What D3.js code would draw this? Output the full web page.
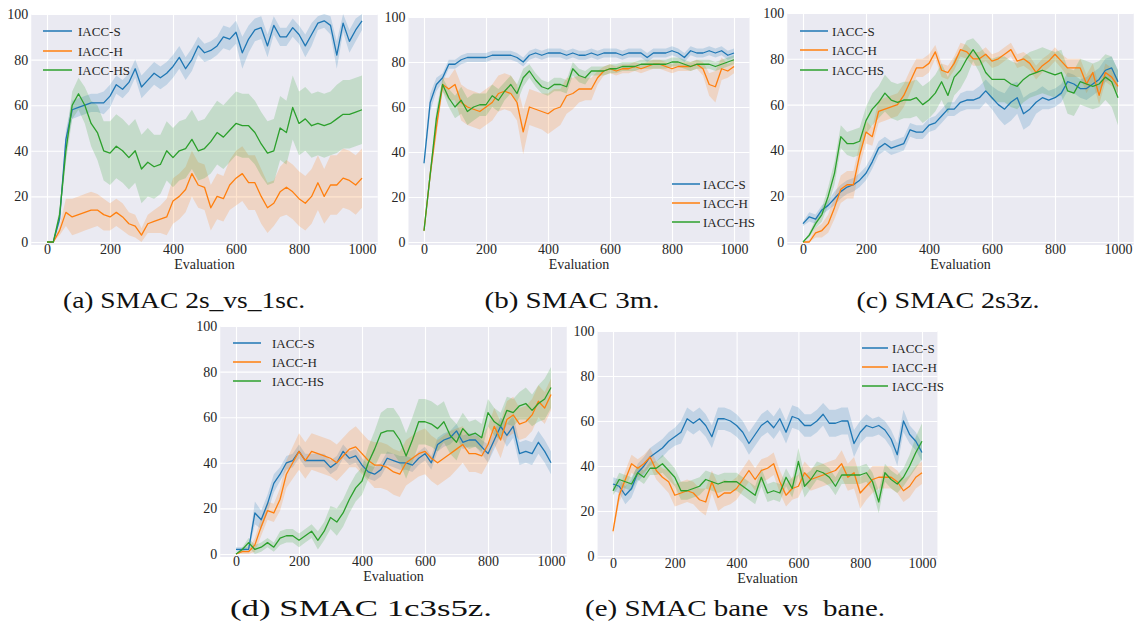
<!DOCTYPE html>
<html>
<head>
<meta charset="utf-8">
<script src="https://cdn.jsdelivr.net/npm/d3@7"></script>
<style>
  body { margin: 0; background: #fff; }
  svg { display: block; }
</style>
</head>
<body>
<svg id="chart" width="1135" height="625"></svg>
<script>
const evalSteps = d3.range(0, 1001, 20);
const xTicks = [0, 200, 400, 600, 800, 1000];
const yTicks = [0, 20, 40, 60, 80, 100];
const seriesNames = ['IACC-S', 'IACC-H', 'IACC-HS'];

// (a) SMAC 2s_vs_1sc  -- mean win rate and half-width of the shaded band
const aS    = [0,0,10,45,58, 59,60,61,61,61, 64,69,67,70,76, 68,71,74,72,74, 77,81,76,80,86, 83,84,86,90,89, 92,83,89,93,94, 86,95,90,90,94, 91,86,91,96,97, 95,82,96,88,93, 97];
const aSErr = [0,0,2,4,4, 4,4,4,4,5, 5,4,4,4,4, 5,5,5,5,5, 5,5,5,5,4, 4,4,4,5,5, 5,7,6,5,5, 5,4,4,4,4, 4,5,5,3,3, 4,6,4,5,5, 4];
const aH    = [0,0,5,13,11, 12,13,14,14,12, 11,13,11,8,7, 3,8,9,10,11, 18,20,23,30,25, 24,15,20,19,25, 28,30,26,26,20, 15,17,22,24,22, 19,17,20,26,20, 25,25,28,27,25, 28];
const aHErr = [0,0,2,6,8, 8,8,8,7,7, 6,6,6,5,5, 3,4,5,6,8, 10,10,10,10,10, 10,10,10,10,11, 12,12,12,12,12, 11,10,11,12,12, 12,12,12,12,12, 13,13,13,13,13, 13];
const aHS   = [0,0,12,40,60, 65,60,52,48,40, 39,42,40,37,40, 32,35,33,34,40, 37,40,41,45,40, 41,44,48,46,49, 52,51,51,48,43, 39,40,50,48,59, 52,54,51,52,51, 52,54,56,56,57, 58];
const aHSErr= [0,0,3,5,6, 7,8,10,12,13, 14,14,14,14,14, 15,15,14,13,13, 13,13,13,13,13, 13,14,14,14,14, 14,14,14,14,14, 14,14,14,14,14, 14,14,14,14,14, 14,15,15,15,15, 15];

// (b) SMAC 3m
const bS    = [35,62,70,73,79, 79,81,82,82,82, 82,83,83,83,83, 82,80,83,84,83, 84,84,84,83,84, 83,83,84,83,84, 84,84,83,84,84, 84,82,84,84,84, 85,84,82,85,84, 84,85,84,85,83, 84];
const bSErr = [3,4,3,2,2, 2,2,2,2,2, 2,2,2,2,2, 2,2,2,2,2, 2,2,2,2,2, 2,2,2,2,2, 2,2,2,2,2, 2,2,2,2,2, 2,2,2,2,2, 2,2,2,2,2, 2];
const bH    = [5,30,51,70,68, 70,62,60,59,58, 60,62,66,67,66, 62,49,60,59,58, 57,59,60,65,66, 68,68,68,73,76, 77,76,77,77,78, 77,78,79,79,78, 77,78,78,78,79, 77,70,69,77,76, 78];
const bHErr = [1,3,4,3,5, 7,8,8,8,8, 8,8,8,8,8, 8,10,8,8,8, 9,9,8,8,7, 6,5,5,3,2, 2,2,2,2,2, 2,2,2,2,2, 2,2,2,2,2, 3,5,7,5,3, 3];
const bHS   = [5,30,55,70,64, 60,63,58,60,61, 61,65,63,67,70, 66,73,76,72,69, 68,70,70,69,77, 74,73,76,76,76, 77,77,78,78,78, 79,79,79,79,79, 80,80,79,78,79, 79,79,78,79,80, 81];
const bHSErr= [1,3,4,3,4, 5,6,6,6,5, 5,5,5,4,4, 4,4,3,3,3, 3,3,3,3,3, 3,3,2,2,2, 2,2,2,2,2, 2,2,2,2,2, 2,2,2,2,2, 2,2,2,2,2, 2];

// (c) SMAC 2s3z
const cS    = [8,11,10,14,16, 19,22,24,25,27, 30,35,41,43,41, 42,43,49,48,48, 51,52,55,58,58, 61,62,62,63,66, 63,60,58,61,63, 56,58,61,63,62, 63,65,70,69,67, 67,69,71,75,76, 70];
const cSErr = [1,2,2,2,2, 3,3,3,3,3, 3,3,3,3,3, 3,3,3,3,3, 3,3,3,3,3, 4,4,4,5,5, 5,6,7,8,7, 7,7,5,5,4, 4,4,4,4,4, 5,5,5,5,5, 5];
const cH    = [0,0,4,5,8, 15,23,25,25,38, 48,46,57,58,59, 60,64,70,76,76, 78,83,75,74,78, 84,83,80,80,82, 79,80,82,84,79, 80,78,74,77,79, 82,79,76,76,76, 69,74,64,74,72, 68];
const cHErr = [0,1,2,3,4, 5,6,6,6,5, 5,4,5,5,5, 5,5,5,4,4, 4,3,3,3,3, 3,3,3,3,3, 3,3,3,3,3, 3,3,3,3,3, 3,3,4,4,4, 4,4,4,4,4, 3];
const cHS   = [0,3,8,12,20, 30,46,43,43,44, 53,58,61,65,62, 61,62,62,63,60, 62,65,70,64,72, 75,80,84,80,74, 71,71,71,69,68, 71,73,74,75,74, 73,74,66,65,70, 69,68,69,72,70, 63];
const cHSErr= [0,1,2,3,4, 5,5,5,6,6, 6,7,7,8,8, 8,8,8,8,8, 8,8,8,8,8, 8,8,5,6,8, 9,10,10,10,10, 10,10,10,10,10, 10,10,10,10,10, 10,10,10,10,11, 12];

// (d) SMAC 1c3s5z
const dS    = [2,2,2,18,15, 22,31,35,40,41, 45,41,41,41,41, 38,40,45,42,43, 39,36,35,37,42, 41,40,40,39,42, 44,40,48,50,51, 54,49,50,50,47, 44,50,56,52,56, 44,45,44,49,45, 40];
const dSErr = [1,1,1,5,4, 4,4,3,3,3, 3,3,3,3,3, 3,3,3,3,3, 3,3,3,3,3, 3,3,3,3,3, 3,3,3,3,3, 3,3,3,3,3, 4,4,4,5,5, 5,5,5,5,5, 5];
const dH    = [0,1,1,4,12, 19,18,24,35,40, 45,41,45,44,43, 42,40,43,46,47, 44,41,39,39,38, 36,35,40,42,44, 45,42,40,42,44, 46,48,44,44,43, 48,56,50,59,61, 57,58,61,67,64, 70];
const dHErr = [0,1,1,3,4, 4,4,5,6,7, 8,8,8,8,8, 8,8,8,8,9, 9,9,10,10,10, 10,10,10,10,10, 10,10,10,10,10, 9,8,8,8,8, 8,8,8,8,8, 7,7,7,7,7, 7];
const dHS   = [0,2,5,2,3, 5,3,7,8,8, 6,8,10,6,10, 16,14,18,24,29, 32,40,46,53,54, 54,50,43,50,58, 58,57,55,58,52, 49,55,52,53,51, 62,58,56,63,62, 65,66,63,66,68, 73];
const dHSErr= [0,1,2,2,2, 2,2,3,3,3, 3,3,3,4,4, 5,6,6,6,6, 6,7,8,9,10, 10,10,10,10,10, 10,10,10,9,8, 8,7,6,6,6, 6,6,6,6,6, 6,7,7,8,9, 9];

// (e) SMAC bane_vs_bane
const eS    = [32,31,27,30,37, 40,44,46,48,51, 53,55,61,59,61, 58,53,61,61,60, 58,55,50,54,58, 60,57,61,55,62, 61,58,58,60,63, 59,59,60,60,50, 55,58,57,58,56, 52,45,60,54,51, 46];
const eSErr = [3,3,4,4,4, 4,4,4,4,4, 4,5,5,5,5, 5,5,5,5,5, 5,5,5,5,5, 5,5,5,5,5, 5,5,5,5,5, 6,6,6,6,6, 5,5,4,4,4, 4,5,5,4,4, 4];
const eH    = [11,27,34,41,39, 41,44,38,35,33, 27,28,29,28,25, 24,33,26,28,28, 30,34,38,34,38, 39,41,33,27,30, 31,37,34,35,36, 37,38,41,35,37, 28,31,34,35,35, 35,33,29,31,35, 37];
const eHErr = [2,3,4,4,4, 4,4,4,4,5, 5,5,5,5,5, 6,5,6,6,5, 5,5,5,5,5, 5,5,5,5,5, 5,5,5,5,5, 5,5,6,6,7, 7,6,6,5,5, 5,5,5,5,5, 5];
const eHS   = [29,34,33,32,37, 35,39,39,41,38, 35,29,29,30,31, 34,33,32,33,33, 33,31,29,27,35, 28,29,28,35,30, 42,31,34,38,37, 35,31,36,36,36, 36,37,33,24,37, 34,32,35,40,46, 51];
const eHSErr= [2,3,3,3,3, 3,3,3,4,4, 4,4,4,4,4, 4,4,4,4,4, 4,4,4,4,4, 4,4,4,4,4, 6,5,4,4,4, 4,4,4,4,4, 4,4,4,5,4, 4,4,4,5,7, 8];

const colors = ['#1f77b4', '#ff7f0e', '#2ca02c'];
const serif = '"Liberation Serif", "Times New Roman", "DejaVu Serif", serif';

// Where each subplot sits on the page
const panels = [
    { series: [[aS, aSErr], [aH, aHErr], [aHS, aHSErr]], x0: 47, x1: 362, yTop: 14, yBot: 242,
      legend: { lx1: 43, lx2: 72, tx: 78, rows: [31, 51, 70] },
      caption: { text: '(a) SMAC 2s_vs_1sc.', cx: 184, y: 308, w: 242 } },
    { series: [[bS, bSErr], [bH, bHErr], [bHS, bHSErr]], x0: 424, x1: 734, yTop: 17, yBot: 242,
      legend: { lx1: 672, lx2: 700, tx: 703, rows: [184, 203, 222] },
      caption: { text: '(b) SMAC 3m.', cx: 572, y: 308, w: 175 } },
    { series: [[cS, cSErr], [cH, cHErr], [cHS, cHSErr]], x0: 803, x1: 1118, yTop: 13, yBot: 242,
      legend: { lx1: 800, lx2: 828, tx: 832, rows: [31, 50, 70] },
      caption: { text: '(c) SMAC 2s3z.', cx: 948, y: 308, w: 183 } },
    { series: [[dS, dSErr], [dH, dHErr], [dHS, dHSErr]], x0: 236, x1: 551, yTop: 326, yBot: 554,
      legend: { lx1: 233, lx2: 261, tx: 272, rows: [343, 362, 381] },
      caption: { text: '(d) SMAC 1c3s5z.', cx: 361, y: 616, w: 262 } },
    { series: [[eS, eSErr], [eH, eHErr], [eHS, eHSErr]], x0: 613, x1: 922, yTop: 331, yBot: 556,
      legend: { lx1: 862, lx2: 888, tx: 892, rows: [348, 367, 386] },
      caption: { text: '(e) SMAC bane\u2002vs\u2002bane.', cx: 735, y: 616, w: 300 } }
];

const svg = d3.select('#chart');

function drawPanel(p, idx) {
    const pxPerUnit = (p.x1 - p.x0) / 1000;
    const left = p.x0 - 50 * pxPerUnit;
    const right = p.x1 + 50 * pxPerUnit;
    const bottom = p.yBot + 3;

    const x = d3.scaleLinear().domain([-50, 1050]).range([left, right]);
    const y = d3.scaleLinear().domain([0, 100]).range([p.yBot, p.yTop]);

    const g = svg.append('g');

    // background
    g.append('rect')
        .attr('x', left).attr('y', p.yTop)
        .attr('width', right - left).attr('height', bottom - p.yTop)
        .attr('fill', '#eaeaf2');

    // white grid lines
    const gridX = g.append('g')
        .attr('transform', `translate(0,${bottom})`)
        .call(d3.axisBottom(x).tickValues(xTicks).tickSize(-(bottom - p.yTop)).tickFormat(''));
    const gridY = g.append('g')
        .attr('transform', `translate(${left},0)`)
        .call(d3.axisLeft(y).tickValues(yTicks).tickSize(-(right - left)).tickFormat(''));
    [gridX, gridY].forEach(a => {
        a.select('.domain').remove();
        a.selectAll('line').attr('stroke', '#fff').attr('stroke-width', 1.1);
    });

    // tick labels
    const xAxis = g.append('g')
        .attr('transform', `translate(0,${p.yBot})`)
        .call(d3.axisBottom(x).tickValues(xTicks).tickSize(0).tickPadding(2).tickFormat(d3.format('d')));
    const yAxis = g.append('g')
        .attr('transform', `translate(${left},0)`)
        .call(d3.axisLeft(y).tickValues(yTicks).tickSize(0).tickPadding(3).tickFormat(d3.format('d')));
    [xAxis, yAxis].forEach(a => {
        a.attr('font-family', null).attr('font-size', null);
        a.select('.domain').remove();
        a.selectAll('text')
            .style('font-family', serif)
            .style('font-size', '14px')
            .attr('fill', '#262626');
    });

    g.append('text')
        .attr('x', (left + right) / 2)
        .attr('y', p.yBot + 27)
        .attr('text-anchor', 'middle')
        .style('font-family', serif)
        .style('font-size', '14px')
        .attr('fill', '#262626')
        .text('Evaluation');

    // clip the curves to the plotting area
    const clipId = 'clip' + idx;
    svg.append('clipPath').attr('id', clipId)
        .append('rect')
        .attr('x', left).attr('y', p.yTop)
        .attr('width', right - left).attr('height', bottom - p.yTop);
    const plot = g.append('g').attr('clip-path', `url(#${clipId})`);

    p.series.forEach(([mean, err], k) => {
        const band = d3.area()
            .x((d, i) => x(evalSteps[i]))
            .y0((d, i) => y(Math.max(0, d - err[i])))
            .y1((d, i) => y(Math.min(100, d + err[i])));
        plot.append('path')
            .datum(mean)
            .attr('d', band)
            .attr('fill', colors[k])
            .attr('fill-opacity', 0.2);
    });

    p.series.forEach(([mean], k) => {
        const line = d3.line()
            .x((d, i) => x(evalSteps[i]))
            .y(d => y(d));
        plot.append('path')
            .datum(mean)
            .attr('d', line)
            .attr('fill', 'none')
            .attr('stroke', colors[k])
            .attr('stroke-width', 1.3)
            .attr('stroke-linejoin', 'round');
    });

    // legend
    const lg = g.append('g');
    seriesNames.forEach((name, k) => {
        const ry = p.legend.rows[k];
        lg.append('line')
            .attr('x1', p.legend.lx1).attr('x2', p.legend.lx2)
            .attr('y1', ry).attr('y2', ry)
            .attr('stroke', colors[k])
            .attr('stroke-width', 1.5);
        lg.append('text')
            .attr('x', p.legend.tx)
            .attr('y', ry)
            .attr('dy', '0.35em')
            .style('font-family', serif)
            .style('font-size', '13px')
            .attr('fill', '#262626')
            .text(name);
    });

    // caption under the subplot
    svg.append('text')
        .attr('x', p.caption.cx)
        .attr('y', p.caption.y)
        .attr('text-anchor', 'middle')
        .style('font-family', serif)
        .style('font-size', '23px')
        .attr('fill', '#111')
        .attr('textLength', p.caption.w)
        .attr('lengthAdjust', 'spacingAndGlyphs')
        .text(p.caption.text);
}

panels.forEach(drawPanel);
</script>
</body>
</html>
